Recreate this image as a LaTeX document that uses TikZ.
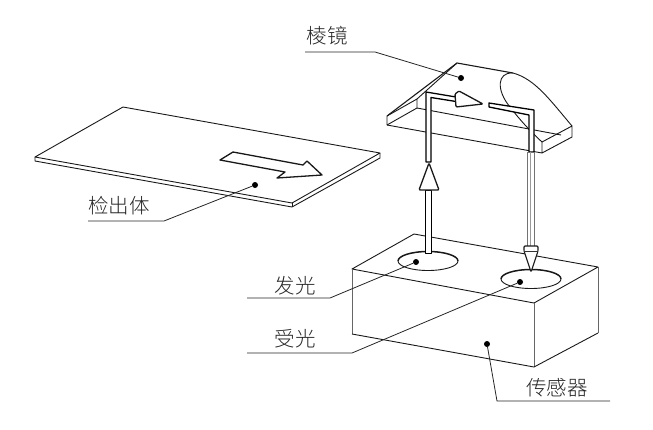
\documentclass[tikz,border=0pt]{standalone}
\usepackage{fontspec}
\newfontfamily\cjk{Noto Sans CJK SC Light}
\tikzset{
  edge/.style={draw=black!90,line width=0.9pt,line join=round},
  thin edge/.style={draw=black!60,line width=0.7pt},
  heavy/.style={draw=black!90,line width=1.3pt,line join=round},
  beam/.style={draw=black,line width=1.3pt,fill=white,line join=round},
  cone/.style={draw=black!90,line width=1.3pt,fill=white,line join=round,rounded corners=1pt},
  leader/.style={draw=black!85,line width=0.8pt},
  dotn/.style={circle,fill=black,inner sep=0pt,minimum size=6pt},
  lab/.style={font=\cjk\fontsize{20.5}{21}\selectfont,text=black!85,inner sep=0pt}
}
\begin{document}
\begin{tikzpicture}[x=1pt,y=-1pt]
\useasboundingbox (0,0) rectangle (653,429);
% plate
\draw[edge,fill=white] (35,157) -- (123,107) -- (380,153) -- (292,203) -- cycle;
\draw[edge] (35,157) -- (35,161) -- (292,207) -- (380,158) -- (380,153);
\draw[edge] (292,203) -- (292,207);
\draw[heavy] (220,160) -- (233,152) -- (303,165) -- (307,161) -- (322,175) -- (277,178) -- (285,172) -- cycle;
% sensor box
\draw[edge] (352,269) -- (414,234) -- (598,267) -- (534,303) -- cycle;
\draw[thin edge] (352,269) -- (352,334);
\draw[thin edge] (534,303) -- (534,367);
\draw[thin edge] (598,267) -- (598,333);
\draw[edge] (352,334) -- (534,367) -- (598,333);
% apertures
\draw[edge] (398,261) arc[start angle=180,end angle=360,x radius=30,y radius=-9.5];
\draw[edge] (501,279) arc[start angle=180,end angle=360,x radius=30,y radius=-9.5];
\draw[heavy,line width=1.5pt] (398,261) arc[start angle=180,end angle=0,x radius=30,y radius=-9.5];
\draw[heavy,line width=1.5pt] (501,279) arc[start angle=180,end angle=0,x radius=30,y radius=-9.5];
% prism
\draw[edge,line width=1.1pt] (387,116) -- (457,63) -- (513,73);
\draw[edge] (417,99) -- (457,63);
\draw[edge] (387,116) -- (387,125) -- (542,153) -- (542,142) -- (572,126) -- (572,137) -- (542,153);
\draw[edge] (387,125) -- (417,108) -- (417,99) -- (387,116);
\draw[edge] (417,108) -- (561,135);
\draw[edge] (513,73) .. controls (535,79) and (550,100) .. (572,126);
\draw[edge] (513,73) .. controls (497,72) and (496,90) .. (510,107) .. controls (520,120) and (530,131) .. (542,142);
% beams
\draw[beam] (426,162) -- (426,92) -- (456,97) -- (456,101.5) -- (431,97.5) -- (431,162) -- cycle;
\draw[cone] (456,107) -- (455,94) -- (459,91) -- (483,104) -- cycle;
\draw[beam] (489,103) -- (534,110) -- (534,152) -- (529,152) -- (529,115) -- (489,107) -- cycle;
\draw[draw=black!55,line width=0.8pt,fill=white] (527,152) rectangle (534,246);
\draw[draw=black!40,line width=0.6pt] (530.5,152) -- (530.5,246);
\draw[beam,line width=0.9pt] (425.5,190) rectangle (431.5,253);
\draw[cone] (429,163) -- (439,190) -- (419,190) -- cycle;
\draw[cone,line width=1.1pt] (524,246) -- (538,246) -- (538,251) -- (531,272) -- (524,251) -- cycle;
\draw[draw=black!80,line width=0.7pt] (524,251) -- (538,251);
% leaders
\node[dotn] (dPlate) at (255,185) {};
\node[dotn] (dPrism) at (461,78) {};
\node[dotn] (dEmit) at (416,262) {};
\node[dotn] (dRecv) at (520,282) {};
\node[dotn] (dSensor) at (487,344) {};
\coordinate (kPlate) at (164,221); \coordinate (ePlate) at (88,221);
\coordinate (kPrism) at (375,52); \coordinate (ePrism) at (305,52);
\coordinate (kEmit) at (330,298); \coordinate (eEmit) at (247,298);
\coordinate (kRecv) at (352,353); \coordinate (eRecv) at (247,353);
\coordinate (kSensor) at (497,401); \coordinate (eSensor) at (610,401);
\draw[leader] (dPlate) -- (kPlate) -- (ePlate);
\draw[leader] (dPrism) -- (kPrism) -- (ePrism);
\draw[leader] (dEmit) -- (kEmit) -- (eEmit);
\draw[leader] (dRecv) -- (kRecv) -- (eRecv);
\draw[leader] (dSensor) -- (kSensor) -- (eSensor);
% labels
\node[lab] (tPlate) at (119,206) {检出体};
\node[lab] (tPrism) at (327,36) {棱镜};
\node[lab] (tEmit) at (295,286) {发光};
\node[lab] (tRecv) at (295,339) {受光};
\node[lab] (tSensor) at (557,388) {传感器};
\end{tikzpicture}
\end{document}
